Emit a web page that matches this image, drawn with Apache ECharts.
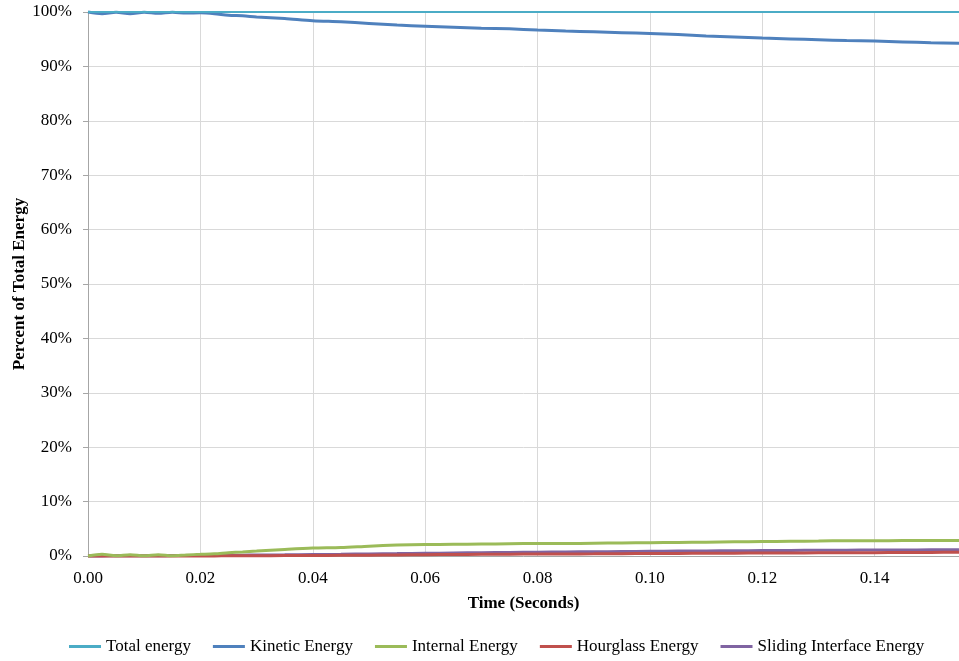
<!DOCTYPE html>
<html><head><meta charset="utf-8">
<script src="https://cdn.jsdelivr.net/npm/echarts@6/dist/echarts.min.js"></script>
<style>html,body{margin:0;padding:0;background:#fff}#c{width:959px;height:661px}</style>
</head><body><div id="c"></div>
<script>
const times = [0,0.0025,0.005,0.0075,0.01,0.0125,0.015,0.0175,0.02,0.0225,0.025,0.0275,0.03,0.035,0.04,0.045,0.05,0.055,0.06,0.065,0.07,0.075,0.08,0.085,0.09,0.095,0.1,0.105,0.11,0.115,0.12,0.125,0.13,0.135,0.14,0.145,0.15,0.155];
const totalEnergy = times.map(() => 100);
const kineticEnergy = [100,99.7,99.95,99.7,99.95,99.75,99.95,99.8,99.85,99.7,99.4,99.3,99.1,98.8,98.4,98.2,97.9,97.6,97.4,97.2,97.0,96.9,96.7,96.5,96.35,96.2,96.05,95.85,95.6,95.4,95.2,95.05,94.9,94.75,94.65,94.5,94.35,94.25];
const internalEnergy = [0,0.3,0.05,0.25,0.05,0.25,0.05,0.2,0.3,0.4,0.6,0.75,0.9,1.2,1.45,1.55,1.8,2.0,2.1,2.15,2.2,2.25,2.3,2.3,2.35,2.4,2.45,2.5,2.55,2.6,2.65,2.7,2.75,2.8,2.8,2.85,2.85,2.85];
const hourglassEnergy = [0,0,0,0,0,0,0,0,0,0.02,0.03,0.04,0.05,0.08,0.1,0.13,0.16,0.2,0.24,0.27,0.3,0.33,0.36,0.38,0.4,0.43,0.46,0.48,0.5,0.52,0.54,0.56,0.58,0.6,0.62,0.64,0.66,0.68];
const slidingEnergy = [0,0.02,0.03,0.04,0.05,0.06,0.07,0.08,0.1,0.12,0.14,0.16,0.18,0.22,0.27,0.32,0.38,0.44,0.5,0.55,0.6,0.65,0.7,0.74,0.78,0.82,0.86,0.9,0.93,0.96,0.99,1.02,1.05,1.07,1.09,1.11,1.13,1.15];
const seriesNames = ['Total energy','Kinetic Energy','Internal Energy','Hourglass Energy','Sliding Interface Energy'];
const seriesValues = [totalEnergy, kineticEnergy, internalEnergy, hourglassEnergy, slidingEnergy];
const colors = ['#4BACC6','#4F81BD','#9BBB59','#C0504D','#8064A2'];
const widths = [2,3,3,3,3];

const font = '"Liberation Serif", "Times New Roman", serif';
const chart = echarts.init(document.getElementById('c'));
chart.setOption({
  animation: false,
  color: colors,
  grid: {left: 88, right: 0, top: 12, bottom: 105, containLabel: false, outerBoundsMode: 'none'},
  legend: {
    left: 64, bottom: 1, itemGap: 22, itemWidth: 32, itemHeight: 3, icon: 'rect',
    textStyle: {fontFamily: font, fontSize: 17, color: '#000'},
    data: seriesNames
  },
  xAxis: {
    type: 'value', min: 0, max: 0.155, interval: 0.02,
    name: 'Time (Seconds)', nameLocation: 'middle', nameGap: 39,
    nameTextStyle: {fontFamily: font, fontSize: 17, fontWeight: 'bold', color: '#000'},
    axisLine: {show: true, lineStyle: {color: '#a6a6a6', width: 1}},
    axisTick: {show: false},
    axisLabel: {fontFamily: font, fontSize: 17, color: '#000', margin: 14, showMaxLabel: false,
      formatter: v => v.toFixed(2)},
    splitLine: {show: true, lineStyle: {color: '#d9d9d9', width: 1}}
  },
  yAxis: {
    type: 'value', min: 0, max: 100, interval: 10,
    name: 'Percent of Total Energy', nameLocation: 'middle', nameGap: 60, nameMoveOverlap: false,
    nameTextStyle: {fontFamily: font, fontSize: 17, fontWeight: 'bold', color: '#000'},
    axisLine: {show: true, lineStyle: {color: '#a6a6a6', width: 1}},
    axisTick: {show: true, length: 5, lineStyle: {color: '#a6a6a6'}},
    axisLabel: {fontFamily: font, fontSize: 17, color: '#000', margin: 16, formatter: '{value}%'},
    splitLine: {show: true, lineStyle: {color: '#d9d9d9', width: 1}}
  },
  series: seriesNames.map((n, i) => ({
    name: n, type: 'line', showSymbol: false, symbol: 'none', clip: false, smooth: 0.3,
    lineStyle: {width: widths[i], color: colors[i]},
    itemStyle: {color: colors[i]},
    z: 5 - i,
    data: times.map((t, k) => [t, seriesValues[i][k]])
  }))
});
</script></body></html>
